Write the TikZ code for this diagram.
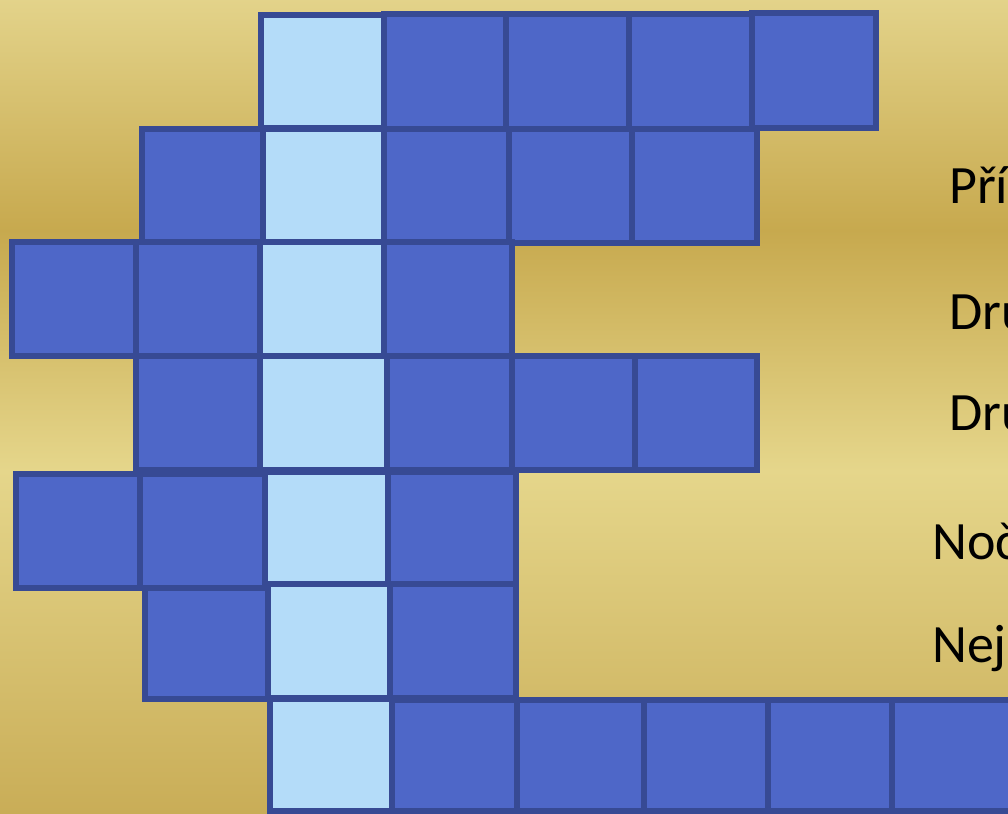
\documentclass[tikz,border=0pt]{standalone}
\usepackage{fontspec}
\setmainfont{Carlito}
\definecolor{gA}{HTML}{E3D38A}
\definecolor{gB}{HTML}{C7A94E}
\definecolor{gC}{HTML}{E5D68B}
\definecolor{gD}{HTML}{C9AD57}
\definecolor{edge}{HTML}{374A94}
\definecolor{darkfill}{HTML}{4E67C8}
\definecolor{lightfill}{HTML}{B4DCF9}
\tikzset{
  dcell/.style={draw=edge,fill=darkfill,line width=5.5pt,line join=miter},
  lcell/.style={draw=edge,fill=lightfill,line width=5.5pt,line join=miter},
  clue/.style={anchor=base west,inner sep=0pt,font=\fontsize{54}{60}\selectfont,text=black}
}
\begin{document}
\begin{tikzpicture}[x=1pt,y=-1pt]
\useasboundingbox (0,0) rectangle (1008,813);
\clip (0,0) rectangle (1008,813);
% background
\shade[top color=gA,bottom color=gB] (0,-1) rectangle (1008,231);
\shade[top color=gB,bottom color=gC] (0,230) rectangle (1008,471);
\shade[top color=gC,bottom color=gD] (0,470) rectangle (1008,814);
% row 1
\draw[lcell] (261,15) rectangle (384,128);
\draw[dcell] (384,14) rectangle (506,129);
\draw[dcell] (506,14) rectangle (629,129);
\draw[dcell] (629,14) rectangle (752,129);
\draw[dcell] (752,13) rectangle (876,128);
% row 2
\draw[dcell] (142,129) rectangle (263,243);
\draw[lcell] (263,129) rectangle (384,243);
\draw[dcell] (384,129) rectangle (509,243);
\draw[dcell] (509,129) rectangle (632,243);
\draw[dcell] (632,129) rectangle (757,243);
% row 3
\draw[dcell] (12,242) rectangle (136,356);
\draw[dcell] (136,242) rectangle (260,356);
\draw[lcell] (260,242) rectangle (384,356);
\draw[dcell] (384,242) rectangle (512,356);
% row 4
\draw[dcell] (136,356) rectangle (260,470);
\draw[lcell] (260,356) rectangle (387,470);
\draw[dcell] (387,356) rectangle (512,470);
\draw[dcell] (512,356) rectangle (635,470);
\draw[dcell] (635,356) rectangle (757,470);
% row 5
\draw[dcell] (16,474) rectangle (140,588);
\draw[dcell] (140,474) rectangle (265,588);
\draw[lcell] (265,472) rectangle (388,584);
\draw[dcell] (388,472) rectangle (516,584);
% row 6
\draw[dcell] (145,588) rectangle (268,699);
\draw[lcell] (268,584) rectangle (390,698);
\draw[dcell] (390,584) rectangle (516,698);
% row 7
\draw[lcell] (270,699) rectangle (392,811);
\draw[dcell] (392,700) rectangle (517,811);
\draw[dcell] (517,700) rectangle (644,811);
\draw[dcell] (644,700) rectangle (768,811);
\draw[dcell] (768,700) rectangle (892,811);
\draw[dcell] (892,700) rectangle (1030,811);
% clues
\node[clue] (c1) at (949,203) {Pří};
\node[clue] (c2) at (949,329) {Dru};
\node[clue] (c3) at (949,430) {Dru};
\node[clue] (c4) at (932,559) {Noč};
\node[clue] (c5) at (932,662) {Nej};
\end{tikzpicture}
\end{document}
